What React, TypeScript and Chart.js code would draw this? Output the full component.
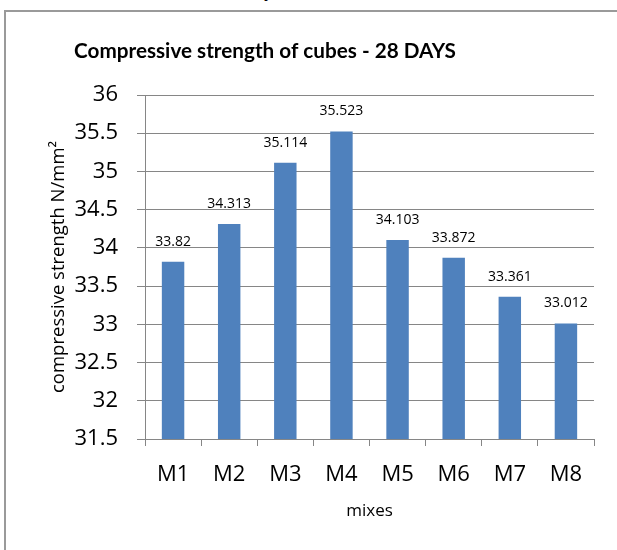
import React, { useEffect, useRef } from "react";
import { Chart, registerables } from "chart.js";

Chart.register(...registerables);

const categories = ["M1", "M2", "M3", "M4", "M5", "M6", "M7", "M8"];
const strengthValues = [33.82, 34.313, 35.114, 35.523, 34.103, 33.872, 33.361, 33.012];
const valueLabels = ["33.82", "34.313", "35.114", "35.523", "34.103", "33.872", "33.361", "33.012"];
const chartTitle = "Compressive strength of cubes - 28 DAYS";
const yAxisTitle = "compressive strength N/mm²";
const xAxisTitle = "mixes";

const FONT = "'Open Sans', 'DejaVu Sans', sans-serif";
const TITLE_FONT = "Lato, 'Open Sans', sans-serif";
const GRID = "#868686";

const labelPlugin = {
  id: "valueLabels",
  afterDatasetsDraw(chart: any) {
    const ctx = chart.ctx;
    const meta = chart.getDatasetMeta(0);
    ctx.save();
    ctx.font = `14px ${FONT}`;
    ctx.fillStyle = "#000";
    ctx.textAlign = "center";
    ctx.textBaseline = "alphabetic";
    meta.data.forEach((bar: any, i: number) => {
      ctx.fillText(valueLabels[i], bar.x, bar.y - 16);
    });
    ctx.restore();
  },
};

const titlePlugin = {
  id: "customTitle",
  afterDraw(chart: any) {
    const ctx = chart.ctx;
    ctx.save();
    ctx.font = `bold 20.7px ${TITLE_FONT}`;
    ctx.fillStyle = "#000";
    ctx.textAlign = "center";
    ctx.textBaseline = "alphabetic";
    ctx.fillText(chartTitle, 265, 58);
    ctx.restore();
  },
};

export default function App() {
  const ref = useRef<HTMLCanvasElement | null>(null);

  useEffect(() => {
    if (!ref.current) return;
    const chart = new Chart(ref.current, {
      type: "bar",
      data: {
        labels: categories,
        datasets: [
          {
            data: strengthValues,
            backgroundColor: "#4F81BD",
            borderWidth: 0,
            categoryPercentage: 1,
            barPercentage: 0.4,
          },
        ],
      },
      options: {
        animation: false,
        responsive: false,
        layout: { padding: { top: 95, right: 23, left: 0, bottom: 0 } },
        plugins: {
          legend: { display: false },
          title: { display: false },
          tooltip: { enabled: false },
        },
        scales: {
          y: {
            min: 31.5,
            max: 36,
            afterFit: (scale: any) => {
              scale.width = 145;
            },
            ticks: {
              stepSize: 0.5,
              color: "#000",
              padding: 19,
              font: { family: FONT, size: 22 },
              callback: (v: any) => String(Number(v)),
            },
            grid: { color: GRID, tickLength: 8, lineWidth: 1 },
            border: { color: GRID, width: 1 },
            title: {
              display: true,
              text: yAxisTitle,
              color: "#000",
              font: { family: FONT, size: 18.5 },
              padding: { top: 48, bottom: 0 },
            },
          },
          x: {
            afterFit: (scale: any) => {
              scale.height = 111;
            },
            ticks: {
              color: "#000",
              padding: 16,
              font: { family: FONT, size: 22 },
            },
            grid: { color: GRID, drawOnChartArea: false, tickLength: 7, lineWidth: 1 },
            border: { color: GRID, width: 1 },
            title: {
              display: true,
              text: xAxisTitle,
              color: "#000",
              font: { family: FONT, size: 17 },
              padding: { top: 14, bottom: 29 },
            },
          },
        },
      },
      plugins: [labelPlugin, titlePlugin],
    });
    return () => chart.destroy();
  }, []);

  return (
    <div style={{ position: "absolute", left: 0, top: 0, width: 617, height: 550, overflow: "hidden", background: "#fff" }}>
      <span style={{ position: "absolute", left: 266, top: -19, fontFamily: "'Liberation Serif', serif", fontStyle: "italic", fontSize: 18 }}>y</span>
      <div style={{ position: "absolute", left: 4, top: 10, width: 640, height: 560, borderLeft: "2px solid #9a9a9a", borderTop: "2px solid #9a9a9a", boxSizing: "border-box" }} />
      <canvas ref={ref} width={617} height={550} style={{ position: "absolute", left: 0, top: 0 }} />
    </div>
  );
}
